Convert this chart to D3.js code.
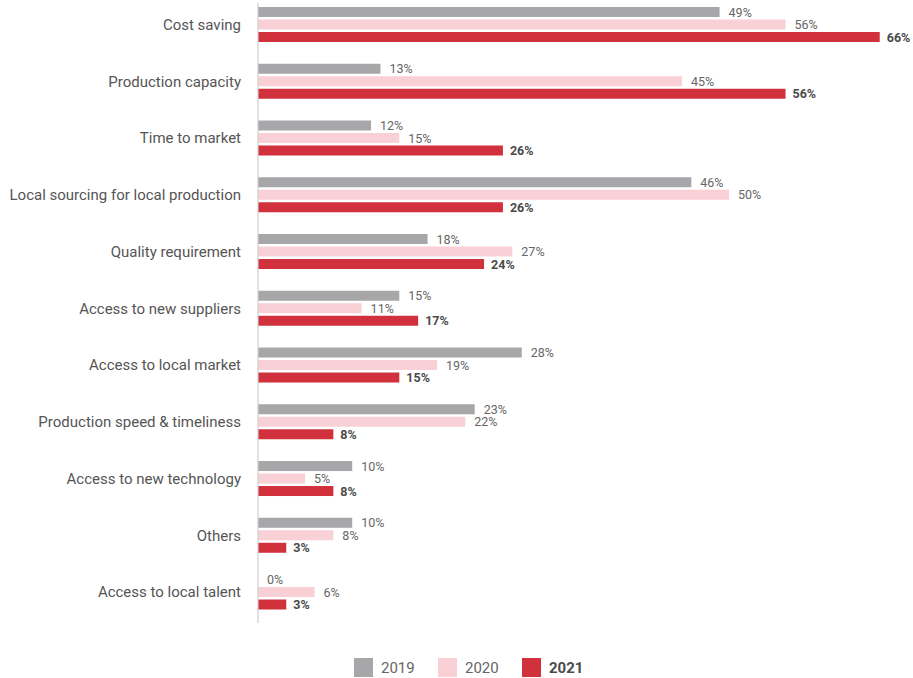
<!DOCTYPE html>
<html>
<head>
<meta charset="utf-8">
<script src="https://cdn.jsdelivr.net/npm/d3@7/dist/d3.min.js"></script>
<style>
  html, body { margin: 0; padding: 0; background: #fff; }
  svg { display: block; font-family: Roboto, "Noto Sans", sans-serif; }
</style>
</head>
<body>
<svg id="chart" width="913" height="678"></svg>
<script>
// Reasons for choosing a location, share of respondents by year
const categories = [
  "Cost saving",
  "Production capacity",
  "Time to market",
  "Local sourcing for local production",
  "Quality requirement",
  "Access to new suppliers",
  "Access to local market",
  "Production speed & timeliness",
  "Access to new technology",
  "Others",
  "Access to local talent"
];
const years = ["2019", "2020", "2021"];
const values2019 = [49, 13, 12, 46, 18, 15, 28, 23, 10, 10, 0];
const values2020 = [56, 45, 15, 50, 27, 11, 19, 22, 5, 8, 6];
const values2021 = [66, 56, 26, 26, 24, 17, 15, 8, 8, 3, 3];
const seriesColors = ["#a7a7aa", "#f9d0d5", "#d1313d"];

const series = [values2019, values2020, values2021];

const svg = d3.select("#chart");

const axisX = 258;
const x = d3.scaleLinear().domain([0, 66]).range([axisX, axisX + 66 * 9.42]);

// one band per category, three thin bars inside each band
const y = d3.scaleBand()
  .domain(categories)
  .range([-3.78, 620.3])
  .paddingInner(0.3833)
  .paddingOuter(0.19);

const sub = d3.scaleBand()
  .domain(years)
  .range([0, y.bandwidth()])
  .paddingInner(0.2);

// category labels on the left
svg.append("g")
  .selectAll("text")
  .data(categories)
  .join("text")
  .attr("x", 241)
  .attr("y", d => y(d) + y.bandwidth() / 2)
  .attr("dy", "0.35em")
  .attr("text-anchor", "end")
  .attr("font-size", 15)
  .attr("fill", "#555")
  .text(d => d);

// bars and value labels per year
years.forEach((yr, si) => {
  const g = svg.append("g").attr("class", "series-" + yr);
  const rows = categories.map((c, i) => ({ c, v: series[si][i] }));
  g.selectAll("rect")
    .data(rows)
    .join("rect")
    .attr("x", x(0))
    .attr("y", d => y(d.c) + sub(yr))
    .attr("width", d => x(d.v) - x(0))
    .attr("height", sub.bandwidth())
    .attr("fill", seriesColors[si]);
  g.selectAll("text")
    .data(rows)
    .join("text")
    .attr("x", d => x(d.v) + (si === 2 ? 7 : 9))
    .attr("y", d => y(d.c) + sub(yr) + sub.bandwidth() / 2)
    .attr("dy", "0.36em")
    .attr("font-size", 12.5)
    .attr("font-weight", si === 2 ? 700 : 400)
    .attr("fill", si === 2 ? "#4a4a4a" : "#666")
    .text(d => d.v + "%");
});

// baseline
svg.append("line")
  .attr("x1", axisX).attr("x2", axisX)
  .attr("y1", 3).attr("y2", 623)
  .attr("stroke", "#cfcfcf")
  .attr("stroke-width", 1.2);

// legend
const legendX = [354, 438, 522];
const legend = svg.append("g")
  .selectAll("g")
  .data(years)
  .join("g")
  .attr("transform", (d, i) => `translate(${legendX[i]},658)`);
legend.append("rect")
  .attr("width", 19).attr("height", 19)
  .attr("fill", (d, i) => seriesColors[i]);
legend.append("text")
  .attr("x", 27).attr("y", 9.5)
  .attr("dy", "0.36em")
  .attr("font-size", 15)
  .attr("font-weight", (d, i) => i === 2 ? 700 : 400)
  .attr("fill", (d, i) => i === 2 ? "#4a4a4a" : "#666")
  .text(d => d);
</script>
</body>
</html>
